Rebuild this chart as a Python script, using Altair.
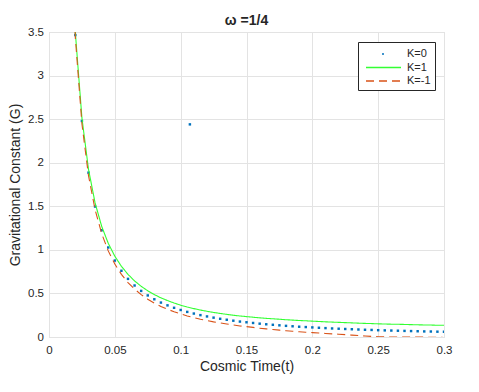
import altair as alt
import pandas as pd

t = [0.015, 0.020, 0.025, 0.030, 0.035, 0.040, 0.045, 0.050, 0.055, 0.060,
     0.065, 0.070, 0.075, 0.080, 0.085, 0.090, 0.095, 0.100, 0.105, 0.110,
     0.115, 0.120, 0.125, 0.130, 0.135, 0.140, 0.145, 0.150, 0.155, 0.160,
     0.165, 0.170, 0.175, 0.180, 0.185, 0.190, 0.195, 0.200, 0.205, 0.210,
     0.215, 0.220, 0.225, 0.230, 0.235, 0.240, 0.245, 0.250, 0.255, 0.260,
     0.265, 0.270, 0.275, 0.280, 0.285, 0.290, 0.295, 0.300]

g_k0 = [5.335, 3.465, 2.479, 1.886, 1.497, 1.225, 1.027, 0.877, 0.760, 0.667,
        0.591, 0.529, 0.477, 0.433, 0.395, 0.363, 0.335, 0.310, 0.288, 0.269,
        0.251, 0.236, 0.222, 0.209, 0.198, 0.187, 0.177, 0.169, 0.161, 0.153,
        0.146, 0.140, 0.134, 0.128, 0.123, 0.118, 0.114, 0.110, 0.106, 0.102,
        0.098, 0.095, 0.092, 0.089, 0.086, 0.083, 0.081, 0.078, 0.076, 0.074,
        0.072, 0.070, 0.068, 0.066, 0.064, 0.063, 0.061, 0.060]

g_k1 = [5.365, 3.495, 2.514, 1.924, 1.539, 1.270, 1.075, 0.927, 0.811, 0.719,
        0.643, 0.582, 0.530, 0.487, 0.449, 0.418, 0.390, 0.365, 0.344, 0.326,
        0.309, 0.295, 0.282, 0.270, 0.260, 0.250, 0.241, 0.234, 0.227, 0.220,
        0.214, 0.209, 0.204, 0.198, 0.194, 0.189, 0.186, 0.182, 0.178, 0.174,
        0.171, 0.168, 0.165, 0.162, 0.159, 0.156, 0.154, 0.151, 0.149, 0.147,
        0.146, 0.144, 0.142, 0.140, 0.138, 0.137, 0.135, 0.134]

g_km1 = [5.300, 3.435, 2.447, 1.852, 1.461, 1.187, 0.988, 0.837, 0.719, 0.625,
         0.549, 0.486, 0.434, 0.389, 0.351, 0.318, 0.290, 0.265, 0.242, 0.223,
         0.204, 0.189, 0.174, 0.161, 0.149, 0.138, 0.127, 0.119, 0.110, 0.101,
         0.093, 0.086, 0.079, 0.072, 0.066, 0.060, 0.055, 0.050, 0.046, 0.041,
         0.036, 0.032, 0.027, 0.022, 0.017, 0.012, 0.007, 0.003, 0.001, 0.000,
         -0.001, -0.001, -0.001, -0.002, -0.002, -0.003, -0.004, -0.005]

# isolated stray K=0 point visible in the figure
extra_t = [0.107]
extra_g = [2.44]

series_names = ["K=0", "K=1", "K=-1"]
colors = ["#0072BD", "#33FF33", "#D95319"]
dashes = [[0, 16, 2, 100], [1, 0], [8, 5]]

rows = []
for name, vals in zip(series_names, [g_k0, g_k1, g_km1]):
    for ti, gi in zip(t, vals):
        rows.append({"t": ti, "G": gi, "series": name})
for ti, gi in zip(extra_t, extra_g):
    rows.append({"t": ti, "G": gi, "series": "K=0"})
df = pd.DataFrame(rows)

FONT = "Liberation Sans"
TXT = "#262626"

axis_style = dict(grid=True, gridColor="#e3e3e3", gridWidth=1, domain=False,
                  ticks=False, labelFont=FONT, labelFontSize=11.5,
                  labelColor=TXT, titleFont=FONT, titleFontSize=14,
                  titleFontWeight="normal", titleColor=TXT, labelFlush=False,
                  labelOverlap=False)

x = alt.X("t:Q", scale=alt.Scale(domain=[0, 0.3], nice=False, zero=False),
          axis=alt.Axis(values=[0, 0.05, 0.1, 0.15, 0.2, 0.25, 0.3], format="~g",
                        title="Cosmic Time(t)", titlePadding=4, labelPadding=7,
                        **axis_style))
y = alt.Y("G:Q", scale=alt.Scale(domain=[0, 3.5], nice=False),
          axis=alt.Axis(values=[0, 0.5, 1, 1.5, 2, 2.5, 3, 3.5], format="~g",
                        title="Gravitational Constant (G)", titlePadding=5,
                        labelPadding=5.5, **axis_style))

leg = alt.Legend(title=None, orient="none", legendX=309, legendY=10,
                 symbolType="M-2.5,0H2.5", symbolSize=196, symbolStrokeWidth=1.5,
                 symbolOffset=13.5,
                 labelFont=FONT, labelFontSize=11, labelColor=TXT,
                 strokeColor="#262626", fillColor="white", padding=4,
                 rowPadding=0.5, labelOffset=15.5)

lines = alt.Chart(df).transform_filter(alt.datum.series != "K=0").mark_line(
    clip=True, strokeWidth=1.1
).encode(
    x=x, y=y,
    color=alt.Color("series:N", scale=alt.Scale(domain=series_names, range=colors),
                    legend=leg),
    strokeDash=alt.StrokeDash("series:N",
                              scale=alt.Scale(domain=series_names, range=dashes),
                              legend=leg),
    detail="series:N",
)

dots = alt.Chart(df).transform_filter(alt.datum.series == "K=0").mark_square(
    clip=True, size=6, opacity=1, color="#0072BD"
).encode(x=x, y=y)

chart = alt.layer(dots, lines).properties(
    width=395, height=305,
    autosize=alt.AutoSizeParams(type="none"),
    padding={"left": 41, "top": 24, "right": 20, "bottom": 40},
    title=alt.Title("ω =1/4", font=FONT, fontSize=14, fontWeight="bold",
                    color=TXT, offset=-2, anchor="middle"),
).configure_view(
    stroke="#4d4d4d", strokeWidth=1, fill="white"
).configure(background="white")

chart.save("out.html", embed_options={"renderer": "svg", "actions": False})
